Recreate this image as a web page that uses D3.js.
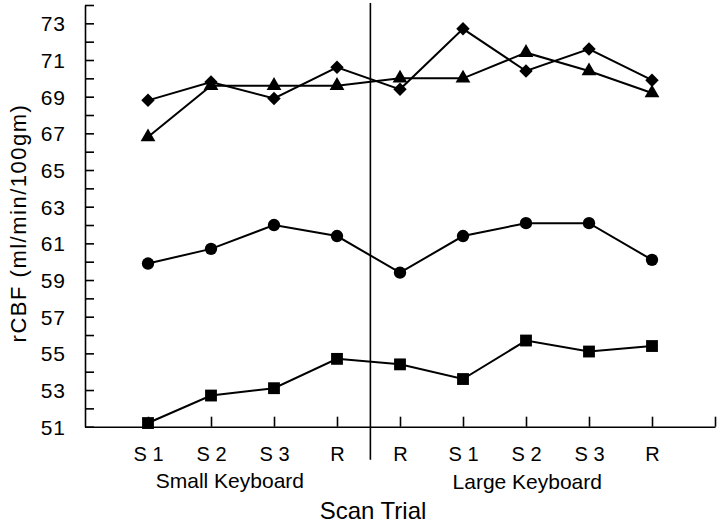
<!DOCTYPE html>
<html>
<head>
<meta charset="utf-8">
<script src="https://cdn.jsdelivr.net/npm/d3@7/dist/d3.min.js"></script>
<style>
  html, body { margin: 0; padding: 0; background: #fff; }
  svg text { font-family: "Liberation Sans", Arial, Helvetica, sans-serif; fill: #000; }
</style>
</head>
<body>
<svg id="chart" width="720" height="524"></svg>
<script>
// scan trials, small keyboard then large keyboard
const trials = ["S 1", "S 2", "S 3", "R", "R", "S 1", "S 2", "S 3", "R"];
const groups = ["Small Keyboard", "Large Keyboard"];

// rCBF values per series
const diamonds = [68.8, 69.8, 68.9, 70.6, 69.4, 72.7, 70.4, 71.6, 69.9];
const triangles = [66.8, 69.6, 69.6, 69.6, 70.0, 70.0, 71.4, 70.4, 69.2];
const circles = [59.9, 60.7, 62.0, 61.4, 59.4, 61.4, 62.1, 62.1, 60.1];
const squares = [51.2, 52.7, 53.1, 54.7, 54.4, 53.6, 55.7, 55.1, 55.4];

const yTicks = d3.range(51, 75);

const svg = d3.select("#chart");

const x = d3.scaleLinear().domain([0, 10]).range([85, 715]);
const y = d3.scaleLinear().domain([51, 74]).range([426.7, 5]);

// y axis, ticks point inward, only odd values labelled
const yAxis = d3.axisLeft(y)
  .tickValues(yTicks)
  .tickSizeInner(-9)
  .tickSizeOuter(0)
  .tickPadding(19)
  .tickFormat(d => (d % 2 ? d : ""));

const gy = svg.append("g").attr("transform", `translate(${x(0)},0)`).call(yAxis);
gy.selectAll("text").style("font-size", "21px").style("letter-spacing", "1px").attr("dy", "0.36em");

// x axis with tick labels for each trial
const xAxis = d3.axisBottom(x)
  .tickValues(d3.range(1, 11))
  .tickSizeInner(-10)
  .tickSizeOuter(0)
  .tickPadding(20)
  .tickFormat(d => trials[d - 1] || "");

const gx = svg.append("g").attr("transform", `translate(0,${y(51)})`).call(xAxis);
gx.selectAll("text").style("font-size", "20px");

svg.selectAll(".domain, .tick line")
  .attr("stroke", "#000")
  .attr("stroke-width", 1.6);

// divider between keyboards
svg.append("line")
  .attr("x1", x(4.53)).attr("x2", x(4.53))
  .attr("y1", y(74) - 2).attr("y2", y(51) + 33)
  .attr("stroke", "#000")
  .attr("stroke-width", 1.6);

// group labels
svg.append("text")
  .attr("x", x(2.3)).attr("y", 488)
  .attr("text-anchor", "middle")
  .style("font-size", "21px")
  .text(groups[0]);

svg.append("text")
  .attr("x", x(7.02)).attr("y", 489)
  .attr("text-anchor", "middle")
  .style("font-size", "21px")
  .text(groups[1]);

svg.append("text")
  .attr("x", 373).attr("y", 519)
  .attr("text-anchor", "middle")
  .style("font-size", "24px")
  .text("Scan Trial");

svg.append("text")
  .attr("transform", "translate(26,223) rotate(-90)")
  .attr("text-anchor", "middle")
  .style("font-size", "22px")
  .style("letter-spacing", "1.5px")
  .text("rCBF (ml/min/100gm)");

const line = d3.line()
  .x((d, i) => x(i + 1))
  .y(d => y(d));

const series = [
  { values: diamonds, symbol: d3.symbolDiamond2, size: 115 },
  { values: triangles, symbol: d3.symbolTriangle, size: 95 },
  { values: circles, symbol: d3.symbolCircle, size: 120 },
  { values: squares, symbol: d3.symbolSquare, size: 140 }
];

series.forEach(s => {
  svg.append("path")
    .datum(s.values)
    .attr("d", line)
    .attr("fill", "none")
    .attr("stroke", "#000")
    .attr("stroke-width", 2);

  svg.append("g")
    .selectAll("path")
    .data(s.values)
    .enter()
    .append("path")
    .attr("transform", (d, i) => `translate(${x(i + 1)},${y(d)})`)
    .attr("d", d3.symbol().type(s.symbol).size(s.size))
    .attr("fill", "#000");
});
</script>
</body>
</html>
